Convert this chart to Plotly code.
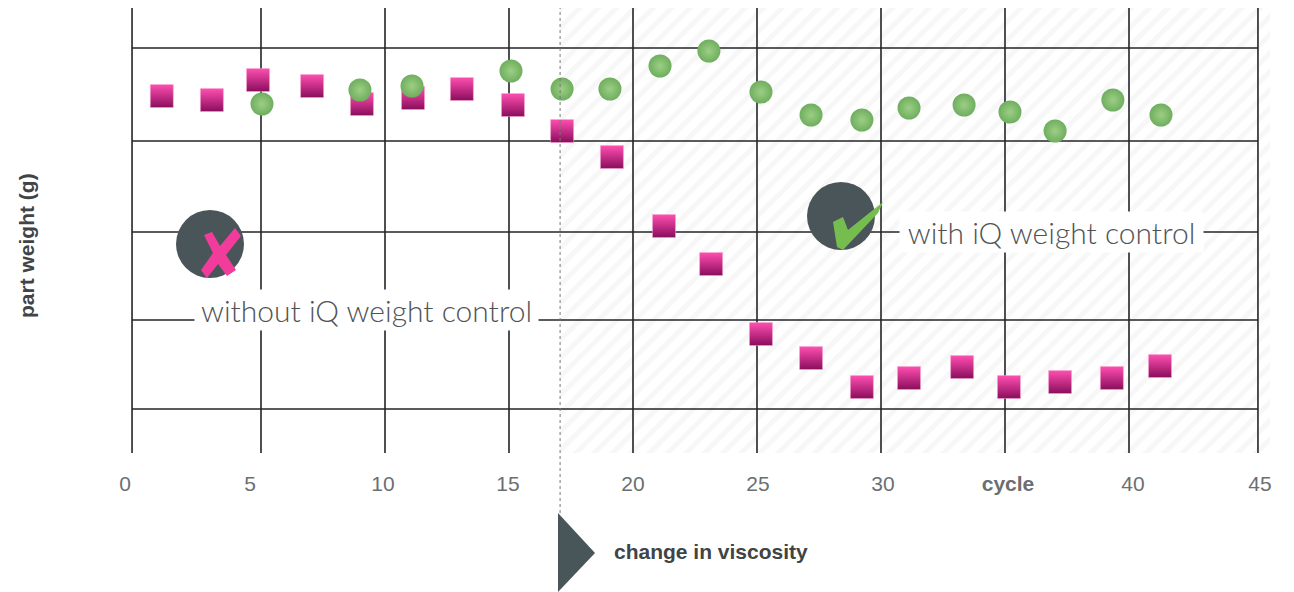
import plotly.graph_objects as go

# Values
tick_positions = [-0.48, 4.56, 9.92, 14.96, 20, 25.04, 30.08, 35.12, 40.16, 45.28]
tick_labels = ["0", "5", "10", "15", "20", "25", "30", "<b>cycle</b>", "40", "45"]
grid_x = [-0.2, 5, 10, 15, 20, 25, 30, 35, 40, 45.2]
grid_y = [405, 312, 221, 133, 44]

without_x = [1.0, 3.02, 4.88, 7.06, 9.07, 11.13, 13.1, 15.16, 17.14, 19.15, 21.25,
             23.15, 25.16, 27.18, 29.23, 31.13, 33.27, 35.16, 37.22, 39.31, 41.25]
without_y = [357, 353, 373, 367, 349, 355, 364, 348, 322, 296, 227,
             189, 119, 95, 66, 75, 86, 66, 71, 75, 87]
with_x = [5.04, 8.99, 11.09, 15.08, 17.14, 19.07, 21.09, 23.06, 25.16, 27.18, 29.23,
          31.13, 33.35, 35.2, 37.02, 39.35, 41.29]
with_y = [349, 363, 367, 382, 364, 364, 387, 402, 361, 338, 333,
          345, 348, 341, 322, 353, 338]
viscosity_change = 17.06
hatch_end = 45.69

W, H = 1294, 592
L, R, T, B = 120, 1275, 8, 453
X_PER_PX = 24.8
x_range = [(L - 137) / X_PER_PX, (R - 137) / X_PER_PX]
y_range = [0, B - T]


def px(p):
    return (p - L) / (R - L)


def py(p):
    return (B - p) / (B - T)


def poly(points):
    return "M " + " L ".join(f"{px(a):.5f},{py(b):.5f}" for a, b in points) + " Z"


def circle(cx, cy, r, color):
    return dict(type="circle", xref="paper", yref="paper", layer="above",
                x0=px(cx - r), x1=px(cx + r), y0=py(cy + r), y1=py(cy - r),
                fillcolor=color, line=dict(width=0))


fig = go.Figure()

fig.add_trace(go.Bar(
    x=[(viscosity_change + hatch_end) / 2], y=[y_range[1]], width=[hatch_end - viscosity_change],
    marker=dict(color="#ffffff", line=dict(width=0),
                pattern=dict(shape="/", fgcolor="#efefef", bgcolor="#ffffff", size=13, solidity=0.4)),
    hoverinfo="skip", showlegend=False))

grid_lx, grid_ly = [], []
for g in grid_x:
    grid_lx += [g, g, None]
    grid_ly += [y_range[0], y_range[1], None]
fig.add_trace(go.Scatter(x=grid_lx, y=grid_ly, mode="lines",
                         line=dict(color="#3a3e40", width=1.8), hoverinfo="skip", showlegend=False))
hx, hy = [], []
for g in grid_y:
    hx += [grid_x[0], grid_x[-1], None]
    hy += [g, g, None]
fig.add_trace(go.Scatter(x=hx, y=hy, mode="lines",
                         line=dict(color="#232526", width=1.6), hoverinfo="skip", showlegend=False))

fig.add_trace(go.Scatter(
    x=without_x, y=without_y, mode="markers", name="without iQ weight control",
    marker=dict(symbol="square", size=23, color="#ff4fb0",
                gradient=dict(type="vertical", color="#8a0d5c"),
                line=dict(width=0.5, color="#f7a6d2")), showlegend=False))
fig.add_trace(go.Scatter(
    x=with_x, y=with_y, mode="markers", name="with iQ weight control",
    marker=dict(symbol="circle", size=23, color="#6fae5f",
                gradient=dict(type="radial", color="#9ccf84"),
                line=dict(width=0)), showlegend=False))

shapes = [
    dict(type="line", xref="x", yref="paper", x0=viscosity_change, x1=viscosity_change,
         y0=py(513), y1=1, layer="above", line=dict(color="#777777", width=1, dash="dot")),
    dict(type="path", xref="paper", yref="paper", layer="above",
         path=poly([(558, 513), (595, 553), (558, 592)]), fillcolor="#48565a", line=dict(width=0)),
    circle(210, 244, 34, "#4a5559"),
    circle(841, 216, 34, "#4a5559"),
    dict(type="path", xref="paper", yref="paper", layer="above",
         path=poly([(204, 235), (212, 232), (220, 246), (235, 228), (241, 236), (226, 255),
                    (236, 270), (227, 276), (218, 264), (207, 278), (201, 270), (213, 253)]),
         fillcolor="#f23c9c", line=dict(width=0)),
    dict(type="path", xref="paper", yref="paper", layer="above",
         path=poly([(833, 222), (843, 217), (848, 230), (883, 202), (878, 213), (843, 250), (837, 247)]),
         fillcolor="#76bd50", line=dict(width=0)),
]

LABEL_FONT = dict(family="Lato", size=30, weight=300, color="#4f5355")
annotations = [
    dict(text="without iQ weight control", xref="paper", yref="paper", x=px(366.5), y=py(310),
         xanchor="center", yanchor="middle", showarrow=False, font=LABEL_FONT,
         bgcolor="#ffffff", width=343, height=40, borderpad=0),
    dict(text="with iQ weight control", xref="paper", yref="paper", x=px(1051.5), y=py(232),
         xanchor="center", yanchor="middle", showarrow=False, font=LABEL_FONT,
         bgcolor="#ffffff", width=303, height=40, borderpad=0),
    dict(text="<b>change in viscosity</b>", xref="paper", yref="paper", x=px(612), y=py(551),
         xanchor="left", yanchor="middle", showarrow=False,
         font=dict(family="Liberation Sans", size=21, color="#3f4446")),
    dict(text="<b>part weight (g)</b>", xref="paper", yref="paper", x=px(26), y=py(246),
         xanchor="center", yanchor="middle", textangle=-90, showarrow=False,
         font=dict(family="Liberation Sans", size=21, color="#3f4446")),
]

fig.update_layout(
    width=W, height=H, margin=dict(l=L, r=W - R, t=T, b=H - B),
    paper_bgcolor="#ffffff", plot_bgcolor="#ffffff", bargap=0, showlegend=False,
    shapes=shapes, annotations=annotations,
    xaxis=dict(range=x_range, tickmode="array", tickvals=tick_positions, ticktext=tick_labels,
               showgrid=False, zeroline=False, showline=False, ticks="outside", ticklen=12,
               tickcolor="rgba(0,0,0,0)", tickfont=dict(family="Liberation Sans", size=21, color="#6a6f71")),
    yaxis=dict(range=y_range, showticklabels=False, showgrid=False, zeroline=False, showline=False,
               ticks=""),
)

fig.write_html("out.html", config=dict(displayModeBar=False),
               post_script="document.body.style.margin='0';document.body.style.overflow='hidden';")
